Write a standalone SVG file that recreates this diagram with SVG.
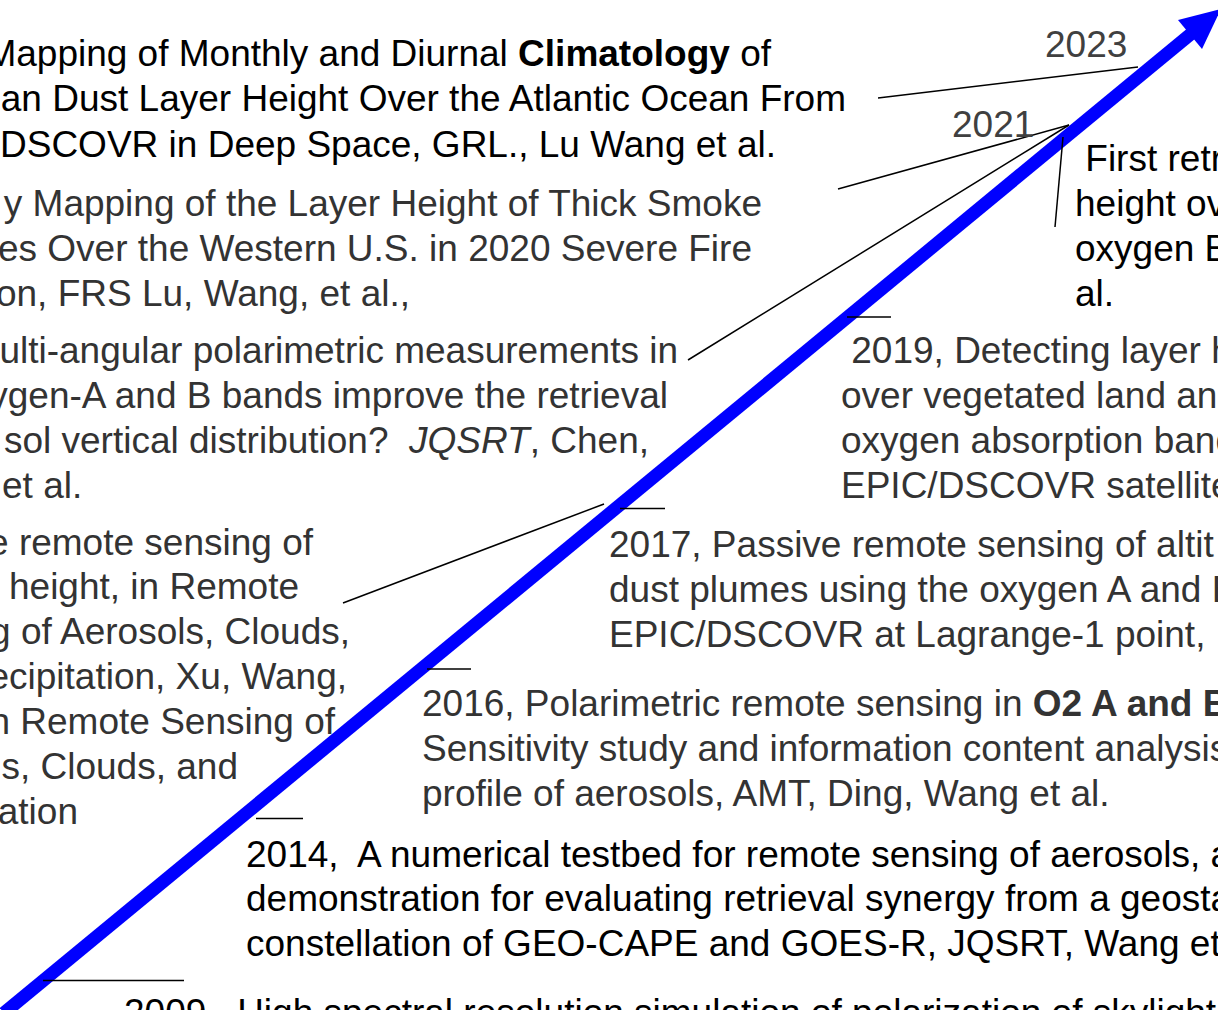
<svg xmlns="http://www.w3.org/2000/svg" width="1218" height="1010" viewBox="0 0 1218 1010">
<style>
text{font-family:"Liberation Sans",Arial,sans-serif;font-size:37px;white-space:pre}
.k{fill:#000}
.g{fill:#333}
.y{fill:#404040}
.e{text-anchor:end}
.b{font-weight:bold}
.i{font-style:italic}
.ln{stroke:#000;stroke-width:1.5;fill:none}
</style>
<rect width="1218" height="1010" fill="#fff"/>
<g id="timeline-arrow">
<line x1="4" y1="1013" x2="1192" y2="33" stroke="#0000ff" stroke-width="13"/>
<polygon points="1178,20 1221,9 1202,49" fill="#0000ff"/>
</g>
<g id="connectors">
<line class="ln" x1="878" y1="98" x2="1138" y2="67"/>
<line class="ln" x1="838" y1="189" x2="1069" y2="125"/>
<line class="ln" x1="688" y1="360" x2="1069" y2="125"/>
<line class="ln" x1="1063" y1="137" x2="1055" y2="227"/>
<line class="ln" x1="847" y1="317" x2="891" y2="317"/>
<line class="ln" x1="343" y1="603" x2="604" y2="504"/>
<line class="ln" x1="620" y1="508.5" x2="665" y2="508.5"/>
<line class="ln" x1="427" y1="669" x2="471" y2="669"/>
<line class="ln" x1="256" y1="818.5" x2="303" y2="818.5"/>
<line class="ln" x1="43" y1="980.5" x2="184" y2="980.5"/>
</g>
<g id="label-2023"><text class="y" x="1045" y="57">2023</text></g>
<g id="label-2021"><text class="y" x="952" y="137">2021</text></g>
<g id="node-2023">
<text class="k e" x="771" y="66">Mapping of Monthly and Diurnal <tspan class="b">Climatology</tspan> of</text>
<text class="k e" x="846" y="111">an Dust Layer Height Over the Atlantic Ocean From</text>
<text class="k e" x="776" y="157">DSCOVR in Deep Space, GRL., Lu Wang et al.</text>
</g>
<g id="node-2021a">
<text class="g e" x="762" y="216">y Mapping of the Layer Height of Thick Smoke</text>
<text class="g e" x="752" y="261">es Over the Western U.S. in 2020 Severe Fire</text>
<text class="g e" x="410" y="306">on, FRS Lu, Wang, et al.,</text>
</g>
<g id="node-2021b">
<text class="g e" x="678" y="363">ulti-angular polarimetric measurements in</text>
<text class="g e" x="668" y="408">ygen-A and B bands improve the retrieval</text>
<text class="g e" x="649" y="453" xml:space="preserve">sol vertical distribution?  <tspan class="i">JQSRT</tspan>, Chen,</text>
<text class="g" x="2" y="498">et al.</text>
</g>
<g id="node-2021c">
<text class="k" x="1075" y="171" xml:space="preserve"> First retr</text>
<text class="k" x="1075" y="216">height ov</text>
<text class="k" x="1075" y="261">oxygen B</text>
<text class="k" x="1075" y="306">al.</text>
</g>
<g id="node-2019">
<text class="g" x="841" y="363" xml:space="preserve"> 2019, Detecting layer h</text>
<text class="g" x="841" y="408">over vegetated land and</text>
<text class="g" x="841" y="453">oxygen absorption band</text>
<text class="g" x="841" y="498">EPIC/DSCOVR satellite</text>
</g>
<g id="node-book">
<text class="g e" x="313" y="555">e remote sensing of</text>
<text class="g e" x="299" y="599">height, in Remote</text>
<text class="g e" x="350" y="644">g of Aerosols, Clouds,</text>
<text class="g e" x="347" y="689">ecipitation, Xu, Wang,</text>
<text class="g e" x="335" y="734">n Remote Sensing of</text>
<text class="g e" x="238" y="779">s, Clouds, and</text>
<text class="g e" x="78" y="824">ation</text>
</g>
<g id="node-2017">
<text class="g" x="609" y="557">2017, Passive remote sensing of altit</text>
<text class="g" x="609" y="602">dust plumes using the oxygen A and B</text>
<text class="g" x="609" y="647">EPIC/DSCOVR at Lagrange-1 point,</text>
</g>
<g id="node-2016">
<text class="g" x="422" y="716">2016, Polarimetric remote sensing in <tspan class="b">O2 A and B</tspan></text>
<text class="g" x="422" y="761">Sensitivity study and information content analysis</text>
<text class="g" x="422" y="806">profile of aerosols, AMT, Ding, Wang et al.</text>
</g>
<g id="node-2014">
<text class="k" x="246" y="867" xml:space="preserve">2014,  A numerical testbed for remote sensing of aerosols, a</text>
<text class="k" x="246" y="911">demonstration for evaluating retrieval synergy from a geosta</text>
<text class="k" x="246" y="956">constellation of GEO-CAPE and GOES-R, JQSRT, Wang et</text>
</g>
<g id="node-2009">
<text class="k" x="124" y="1025" xml:space="preserve">2009,  High spectral resolution simulation of polarization of skylight</text>
</g>
</svg>
